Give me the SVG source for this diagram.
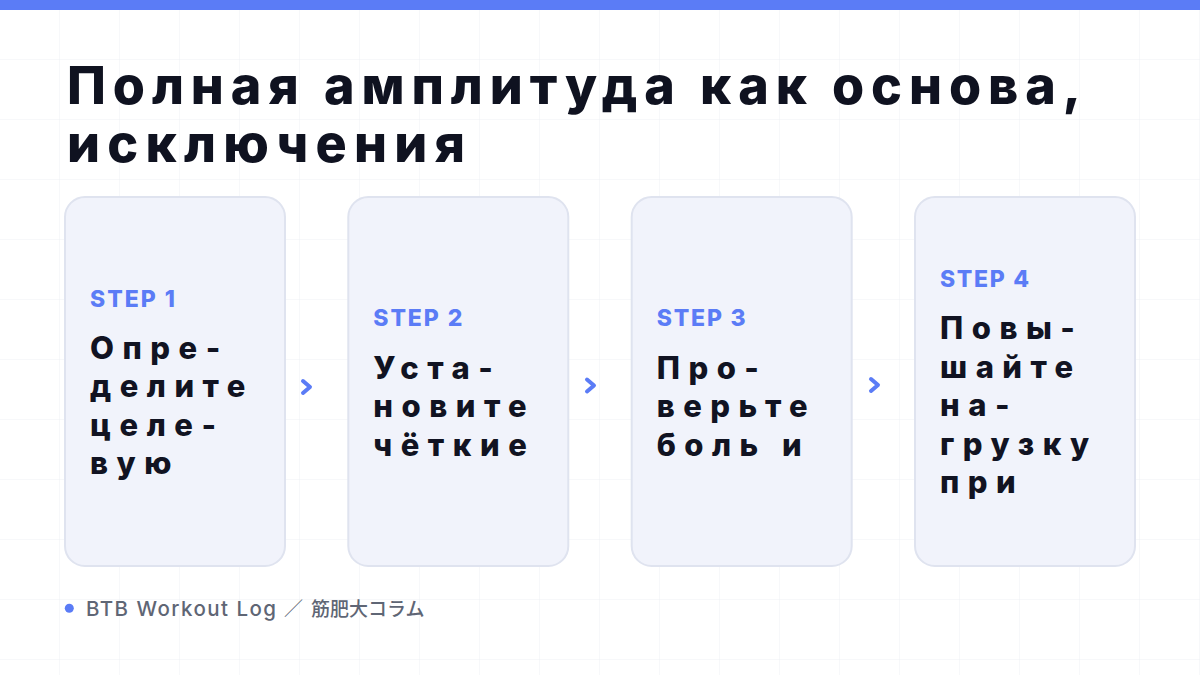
<svg xmlns="http://www.w3.org/2000/svg" width="1200" height="675" viewBox="0 0 1200 675">
  <defs>
    <pattern id="grid" x="0" y="0" width="60" height="60" patternUnits="userSpaceOnUse">
      <path d="M60 0 V60 M0 60 H60" fill="none" stroke="#eef0f4" stroke-width="1"/>
    </pattern>
    <style>
      .title { font-family: Inter, "Liberation Sans", Arial, sans-serif; font-weight: 800; font-size: 52px; fill: #0f1220; }
      .card { fill: #f1f3fb; stroke: #dfe3ef; stroke-width: 2; }
      .step { font-family: Inter, "Liberation Sans", Arial, sans-serif; font-weight: 800; font-size: 23px; fill: #5b7cf6; }
      .body { font-family: Inter, "Liberation Sans", Arial, sans-serif; font-weight: 800; font-size: 31px; fill: #111322; letter-spacing: 8.5px; }
      .chev { fill: none; stroke: #5b7cf6; stroke-width: 4; stroke-linecap: round; stroke-linejoin: round; }
      .foot { font-family: Inter, "Liberation Sans", "Noto Sans CJK JP", sans-serif; font-weight: 500; font-size: 20.5px; fill: #5f6675; }
      .cjk { font-family: "Noto Sans CJK JP", sans-serif; font-size: 19px; }
    </style>
  </defs>
  <rect x="0" y="0" width="1200" height="675" fill="#ffffff"/>
  <rect x="0" y="0" width="1200" height="675" fill="url(#grid)"/>
  <rect x="0" y="0" width="1200" height="10" fill="#5b7cf6"/>

  <g id="title">
    <text class="title" x="67" y="104" textLength="1014" lengthAdjust="spacing">Полная амплитуда как основа,</text>
    <text class="title" x="67" y="162" textLength="398" lengthAdjust="spacing">исключения</text>
  </g>

  <g id="step1">
    <rect class="card" x="65" y="197" width="220" height="369" rx="20"/>
    <text class="step" x="90" y="306.5" textLength="85" lengthAdjust="spacing">STEP 1</text>
    <text class="body" x="90" y="358.5">Опре-</text>
    <text class="body" x="90" y="397">делите</text>
    <text class="body" x="90" y="435.5">целе-</text>
    <text class="body" x="90" y="474">вую</text>
  </g>

  <g id="step2">
    <rect class="card" x="348.3" y="197" width="220" height="369" rx="20"/>
    <text class="step" x="373.3" y="326" textLength="89" lengthAdjust="spacing">STEP 2</text>
    <text class="body" x="373.3" y="378.5">Уста-</text>
    <text class="body" x="373.3" y="417">новите</text>
    <text class="body" x="373.3" y="455.5">чёткие</text>
  </g>

  <g id="step3">
    <rect class="card" x="631.7" y="197" width="220" height="369" rx="20"/>
    <text class="step" x="656.7" y="326" textLength="89" lengthAdjust="spacing">STEP 3</text>
    <text class="body" x="656.7" y="378.5">Про-</text>
    <text class="body" x="656.7" y="417">верьте</text>
    <text class="body" x="656.7" y="455.5">боль и</text>
  </g>

  <g id="step4">
    <rect class="card" x="915" y="197" width="220" height="369" rx="20"/>
    <text class="step" x="940" y="287" textLength="89" lengthAdjust="spacing">STEP 4</text>
    <text class="body" x="940" y="339">Повы-</text>
    <text class="body" x="940" y="377.5">шайте</text>
    <text class="body" x="940" y="416">на-</text>
    <text class="body" x="940" y="454.5">грузку</text>
    <text class="body" x="940" y="493">при</text>
  </g>

  <g id="connectors">
    <path class="chev" d="M303 381 L310 387 L303 393"/>
    <path class="chev" d="M587 379.5 L594 385.5 L587 391.5"/>
    <path class="chev" d="M871 379 L878 385 L871 391"/>
  </g>

  <g id="footer">
    <circle cx="69.3" cy="608.3" r="4.5" fill="#5b7cf6"/>
    <text class="foot" x="86" y="615.5"><tspan textLength="190" lengthAdjust="spacing">BTB Workout Log</tspan><tspan class="cjk" x="284">／</tspan><tspan class="cjk" x="311">筋肥大コラム</tspan></text>
  </g>
</svg>
